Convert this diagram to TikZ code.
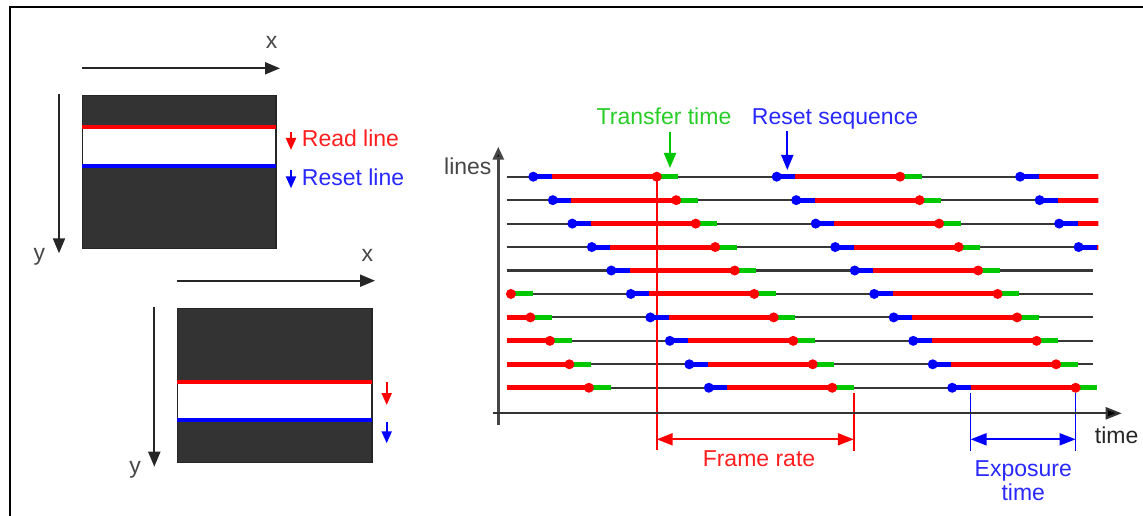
\documentclass[tikz,border=0pt]{standalone}
\usepackage{fontspec}
\setmainfont{Liberation Sans}
\usetikzlibrary{arrows.meta}
\definecolor{cred}{RGB}{255,0,0}
\definecolor{cblue}{RGB}{0,0,255}
\definecolor{cgreen}{RGB}{0,200,0}
\definecolor{tred}{RGB}{255,30,30}
\definecolor{tblue}{RGB}{40,40,255}
\definecolor{tgreen}{RGB}{40,205,40}
\definecolor{tgray}{RGB}{70,70,70}
\definecolor{boxfill}{RGB}{51,51,51}
\definecolor{lgray}{RGB}{55,55,55}
\begin{document}
\begin{tikzpicture}[x=1pt,y=-1pt,
  lbl/.style={font=\fontsize{23}{27}\selectfont, inner sep=0pt},
  sensor/.style={fill=boxfill, draw=black!85, line width=1.5pt},
  axisarrow/.style={draw=black!85, line width=2pt, -{Triangle[length=15pt,width=12pt]}},
  smallarrow/.style={line width=2.2pt, -{Triangle[length=12pt,width=10pt]}},
  markarrow/.style={line width=2pt, -{Triangle[length=15pt,width=12pt]}},
  dimarrow/.style={line width=2pt, {Triangle[length=16pt,width=12pt]}-{Triangle[length=16pt,width=12pt]}},
  grayline/.style={draw=lgray, line width=2.1pt},
  bseg/.style={draw=cblue, line width=5pt},
  rseg/.style={draw=cred, line width=5pt},
  gseg/.style={draw=cgreen, line width=5pt},
  taxis/.style={draw=tgray, line width=3pt},
  marker/.style={line width=1.6pt}
]
\useasboundingbox (0,0) rectangle (1143,516);
% frame
\draw[line width=2pt] (10,516) -- (10,7) -- (1143,7);

% ---------- top sensor ----------
\coordinate (tx1) at (81.7,68.3);
\coordinate (tx2) at (280,68.3);
\coordinate (ty1) at (59,94);
\coordinate (ty2) at (59,253.3);
\draw[axisarrow] (tx1) -- (tx2);
\draw[axisarrow] (ty1) -- (ty2);
\node[lbl, text=tgray, anchor=base] (txl) at (271.7,48.3) {x};
\node[lbl, text=tgray, anchor=base] (tyl) at (39.3,260) {y};
\draw[sensor] (82.3,95.7) rectangle (276,248.3);
\fill[white] (83.1,126.7) rectangle (275.2,165.7);
\draw[cred, line width=3.8pt] (82.3,126.7) -- (276,126.7);
\draw[cblue, line width=3.8pt] (82.3,165.7) -- (276,165.7);
\coordinate (ra1) at (291,131.7);
\coordinate (ra2) at (291,150);
\coordinate (rb1) at (291,170);
\coordinate (rb2) at (291,188.3);
\draw[smallarrow, cred] (ra1) -- (ra2);
\draw[smallarrow, cblue] (rb1) -- (rb2);
\node[lbl, text=tred, anchor=base west] (readl) at (301.7,146.7) {Read line};
\node[lbl, text=tblue, anchor=base west] (resetl) at (301.7,185) {Reset line};

% ---------- bottom sensor ----------
\coordinate (bx1) at (176.7,280.7);
\coordinate (bx2) at (375,280.7);
\coordinate (by1) at (154.3,306.7);
\coordinate (by2) at (154.3,466.7);
\draw[axisarrow] (bx1) -- (bx2);
\draw[axisarrow] (by1) -- (by2);
\node[lbl, text=tgray, anchor=base] (bxl) at (367.3,261.7) {x};
\node[lbl, text=tgray, anchor=base] (byl) at (135,473.5) {y};
\draw[sensor] (177.3,308.3) rectangle (372,462.3);
\fill[white] (178.1,381.7) rectangle (371.2,420);
\draw[cred, line width=3.8pt] (177.3,381.7) -- (372,381.7);
\draw[cblue, line width=3.8pt] (177.3,420) -- (372,420);
\coordinate (bra1) at (386.7,381.7);
\coordinate (bra2) at (386.7,405);
\coordinate (brb1) at (386.7,421.7);
\coordinate (brb2) at (386.7,443.3);
\draw[smallarrow, cred] (bra1) -- (bra2);
\draw[smallarrow, cblue] (brb1) -- (brb2);

% ---------- timing diagram ----------
\foreach \i in {1,...,10}{
  \pgfmathsetmacro\yy{176.7+23.45*(\i-1)}
  \draw[grayline] (506.7,\yy) -- (1093.3,\yy);
}
% markers
\coordinate (fr0) at (656.7,176.7);
\coordinate (fr1) at (656.7,450);
\coordinate (fr2) at (853.8,393);
\coordinate (fr3) at (853.8,450.7);
\coordinate (ex0) at (970.6,393);
\coordinate (ex1) at (970.6,450.7);
\coordinate (ex2) at (1075.6,393);
\coordinate (ex3) at (1075.6,450.7);
\draw[marker, cred] (fr0) -- (fr1);
\draw[marker, cred] (fr2) -- (fr3);
\draw[marker, cblue] (ex0) -- (ex1);
\draw[marker, cblue] (ex2) -- (ex3);

% colored cycles
\foreach \i in {1,...,10}{
  \pgfmathsetmacro\yy{176.7+23.45*(\i-1)}
  \pgfmathsetmacro\bb{533.3+19.5*(\i-1)}
  \foreach \k in {0,1}{
    \pgfmathsetmacro\b{\bb+243.4*\k}
    \draw[bseg] (\b,\yy) -- ({\b+18.4},\yy);
    \draw[rseg] ({\b+18.4},\yy) -- ({\b+123.4},\yy);
    \draw[gseg] ({\b+123.4},\yy) -- ({\b+145},\yy);
    \fill[cblue] (\b,\yy) circle (5pt);
    \fill[cred] ({\b+123.4},\yy) circle (5pt);
  }
}
\begin{scope}
  \clip (500,0) rectangle (1098.3,516);
  \foreach \i in {1,...,4}{
    \pgfmathsetmacro\yy{176.7+23.45*(\i-1)}
    \pgfmathsetmacro\b{1020.1+19.5*(\i-1)}
    \draw[rseg] ({\b+18.4},\yy) -- ({\b+123.4},\yy);
    \draw[bseg] (\b,\yy) -- ({\b+18.4},\yy);
    \fill[cblue] (\b,\yy) circle (5pt);
  }
\end{scope}
\foreach \i in {6,...,10}{
  \pgfmathsetmacro\yy{176.7+23.45*(\i-1)}
  \pgfmathsetmacro\r{413.4+19.5*(\i-1)}
  \draw[rseg] (506.7,\yy) -- (\r,\yy);
  \draw[gseg] (\r,\yy) -- ({\r+21.6},\yy);
  \fill[cred] (\r,\yy) circle (5pt);
}

% axes
\coordinate (vo) at (498.3,425);
\coordinate (vt) at (498.3,146.7);
\coordinate (ho) at (493,413.3);
\coordinate (ht) at (1121.7,413.3);
\draw[taxis, -{Triangle[length=13pt,width=11pt,fill=black]}] (vo) -- (vt);
\draw[taxis, draw=black!80, line width=2.2pt, -{Triangle[length=16pt,width=12pt,fill=black]}] (ho) -- (ht);
\node[lbl, text=tgray, anchor=base east] (lines) at (491.7,175) {lines};
\node[lbl, text=black!85, anchor=base] (time) at (1116.7,443.3) {time};

% labels with arrows
\node[lbl, text=tgreen, anchor=base] (transfer) at (664,125) {Transfer time};
\node[lbl, text=tblue, anchor=base] (resetseq) at (835,125) {Reset sequence};
\coordinate (tt1) at (670,131.7);
\coordinate (tt2) at (670,168);
\coordinate (rs1) at (787.3,131);
\coordinate (rs2) at (787.3,170);
\draw[markarrow, cgreen] (tt1) -- (tt2);
\draw[markarrow, cblue] (rs1) -- (rs2);

% dimension arrows
\coordinate (fra) at (656.7,439.3);
\coordinate (frb) at (853.8,439.3);
\coordinate (exa) at (970.6,439.3);
\coordinate (exb) at (1075.6,439.3);
\draw[dimarrow, cred] (fra) -- (frb);
\draw[dimarrow, cblue] (exa) -- (exb);
\node[lbl, text=tred, anchor=base] (framerate) at (759,466.7) {Frame rate};
\node[lbl, text=tblue, anchor=base] (expo) at (1023.3,476.7) {Exposure};
\node[lbl, text=tblue, anchor=base] (expt) at (1023.3,500) {time};
\end{tikzpicture}
\end{document}
